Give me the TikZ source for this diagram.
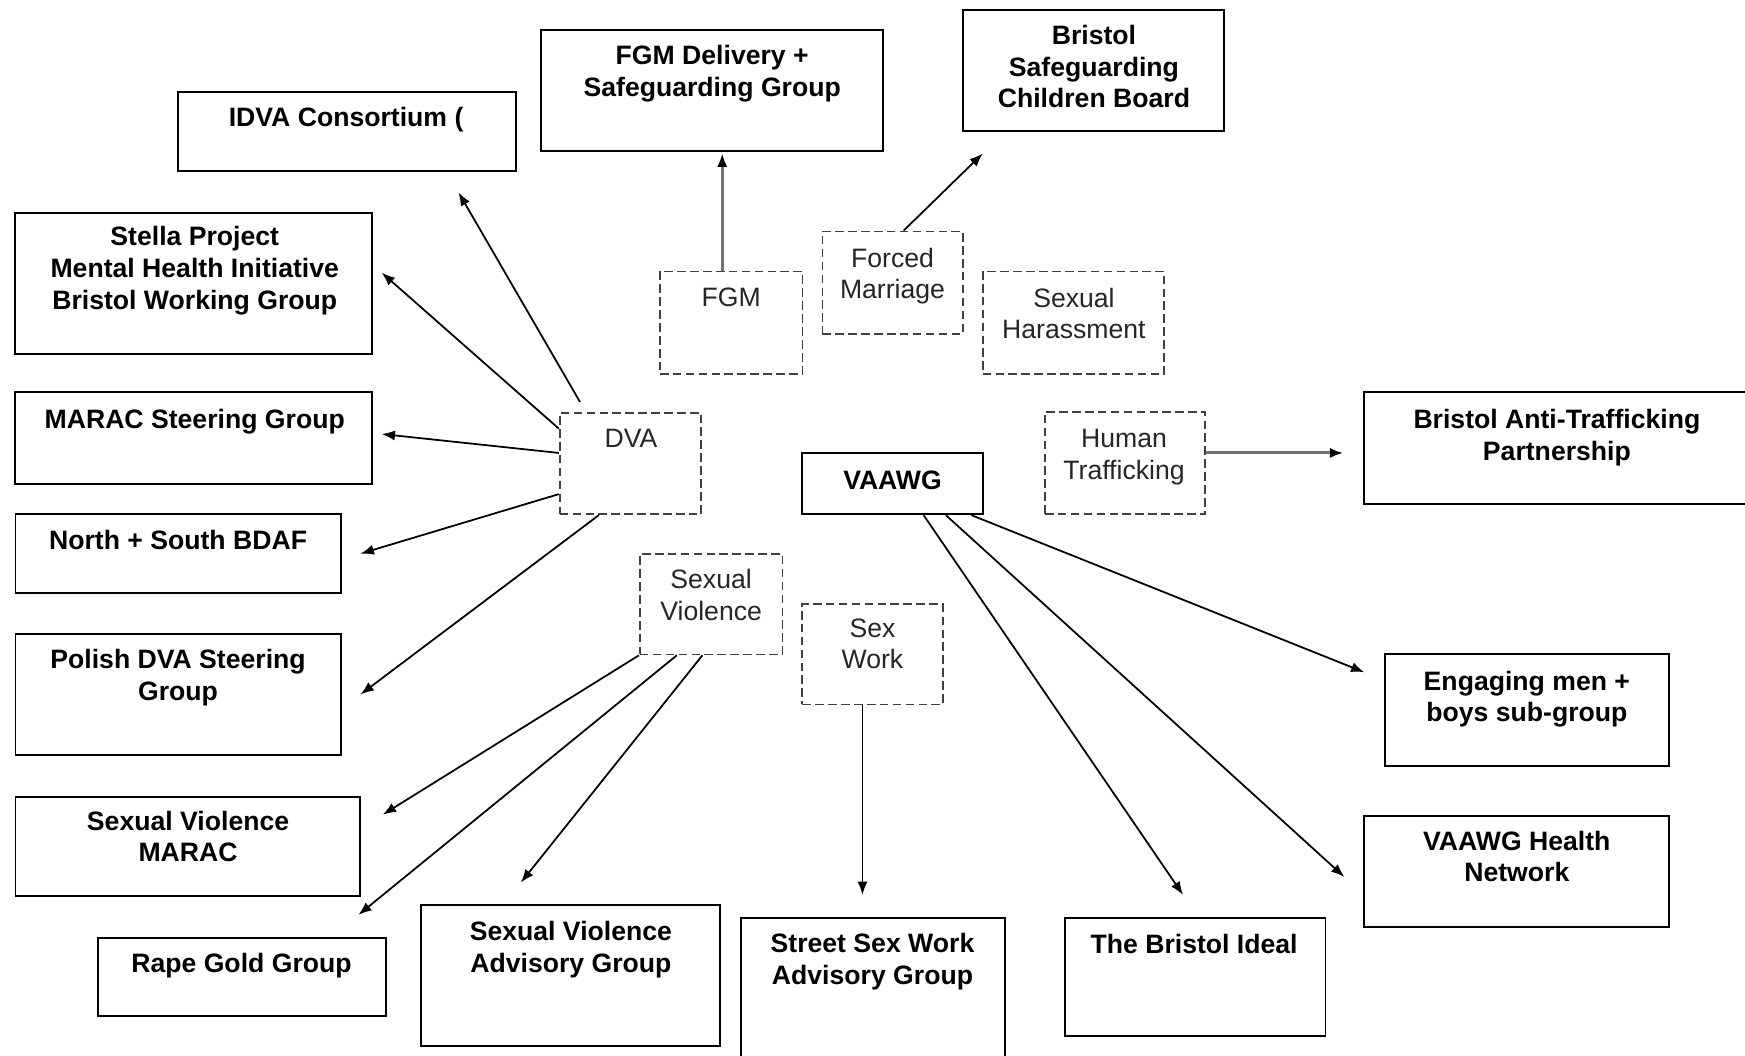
\documentclass[tikz,border=0pt]{standalone}
\usepackage{fontspec}
\setmainfont{Liberation Sans}
\usetikzlibrary{arrows.meta,calc}
\begin{document}
\begin{tikzpicture}[x=0.01cm,y=-0.01cm,
  box/.style={draw=black, line width=0.5pt, rectangle, inner sep=0pt},
  dbox/.style={draw=black!75, line width=0.45pt, dash pattern=on 2.2pt off 1.1pt, rectangle, inner sep=0pt},
  btxt/.style={font=\fontsize{6.8}{8.1}\selectfont\bfseries, align=center, inner sep=0pt, anchor=north},
  dtxt/.style={font=\fontsize{6.8}{8.1}\selectfont, text=black!85, align=center, inner sep=0pt, anchor=north},
  arr/.style={-{Latex[length=3.4pt,width=2.6pt]}, line width=0.45pt},
  garr/.style={-{Latex[length=3.4pt,width=2.6pt,black]}, line width=0.75pt, draw=black!55}]
\useasboundingbox (0,0) rectangle (1568,948);
\clip (0,0) rectangle (1568,948);
\fill[white] (0,0) rectangle (1568,948);

% solid boxes
\node[box, minimum width=3.04cm, minimum height=0.71cm] (idva) at (312,118.5) {};
\node[box, minimum width=3.07cm, minimum height=1.09cm] (fgmd) at (639.5,81.5) {};
\node[box, minimum width=2.35cm, minimum height=1.09cm] (bscb) at (982.5,63.5) {};
\node[box, minimum width=3.20cm, minimum height=1.27cm] (stella) at (174,254.5) {};
\node[box, minimum width=3.20cm, minimum height=0.83cm] (marac) at (174,393.5) {};
\node[box, minimum width=2.92cm, minimum height=0.71cm] (bdaf) at (160,497.5) {};
\node[box, minimum width=2.92cm, minimum height=1.08cm] (polish) at (160,624) {};
\node[box, minimum width=3.09cm, minimum height=0.89cm] (svmarac) at (168.5,760.5) {};
\node[box, minimum width=2.59cm, minimum height=0.70cm] (rape) at (217.5,878) {};
\node[box, minimum width=2.69cm, minimum height=1.27cm] (svadv) at (512.5,876.5) {};
\node[box, minimum width=2.37cm, minimum height=1.35cm] (sswag) at (784.5,892.5) {};
\node[box, minimum width=2.34cm, minimum height=1.06cm] (ideal) at (1074,878) {};
\node[box, minimum width=2.74cm, minimum height=1.00cm] (health) at (1363,783) {};
\node[box, minimum width=2.55cm, minimum height=1.00cm] (engage) at (1372.5,638) {};
\node[box, minimum width=3.54cm, minimum height=1.01cm] (batp) at (1403,402.5) {};
\node[box, minimum width=1.62cm, minimum height=0.55cm] (vaawg) at (802,434.5) {};

% dashed boxes
\node[dbox, minimum width=1.27cm, minimum height=0.91cm] (dva) at (566.5,416.5) {};
\node[dbox, minimum width=1.28cm, minimum height=0.92cm] (fgm) at (657,290) {};
\node[dbox, minimum width=1.26cm, minimum height=0.92cm] (fm) at (802,254) {};
\node[dbox, minimum width=1.63cm, minimum height=0.92cm] (sh) at (964.5,290) {};
\node[dbox, minimum width=1.44cm, minimum height=0.92cm] (ht) at (1011,416) {};
\node[dbox, minimum width=1.28cm, minimum height=0.90cm] (sv) at (639,543) {};
\node[dbox, minimum width=1.26cm, minimum height=0.90cm] (sw) at (784,588) {};

% texts
\node[btxt] (idva-t) at (311,96) {IDVA Consortium (};
\node[btxt] (fgmd-t) at (640,40) {FGM Delivery +\\Safeguarding Group};
\node[btxt] (bscb-t) at (983,22) {Bristol\\Safeguarding\\Children Board};
\node[btxt] (stella-t) at (175,203) {Stella Project\\Mental Health Initiative\\Bristol Working Group};
\node[btxt] (marac-t) at (175,367) {MARAC Steering Group};
\node[btxt] (bdaf-t) at (160,476) {North + South BDAF};
\node[btxt] (polish-t) at (160,583) {Polish DVA Steering\\Group};
\node[btxt] (svmarac-t) at (169,728) {Sexual Violence\\MARAC};
\node[btxt] (rape-t) at (217,856) {Rape Gold Group};
\node[btxt] (svadv-t) at (513,827) {Sexual Violence\\Advisory Group};
\node[btxt] (sswag-t) at (784,838) {Street Sex Work\\Advisory Group};
\node[btxt] (ideal-t) at (1073,839) {The Bristol Ideal};
\node[btxt] (health-t) at (1363,746) {VAAWG Health\\Network};
\node[btxt] (engage-t) at (1372,602) {Engaging men +\\boys sub-group};
\node[btxt] (batp-t) at (1399,367) {Bristol Anti-Trafficking\\Partnership};
\node[btxt] (vaawg-t) at (802,422) {VAAWG};
\node[dtxt] (dva-t) at (567,385) {DVA};
\node[dtxt] (fgm-t) at (657,258) {FGM};
\node[dtxt] (fm-t) at (802,222) {Forced\\Marriage};
\node[dtxt] (sh-t) at (965,258) {Sexual\\Harassment};
\node[dtxt] (ht-t) at (1010,385) {Human\\Trafficking};
\node[dtxt] (sv-t) at (639,511) {Sexual\\Violence};
\node[dtxt] (sw-t) at (784,555) {Sex\\Work};

% connectors
\draw[arr] ($(dva.north west)+(19,-9)$) -- ($(idva.south west)+(253,18)$);
\draw[arr] ($(dva.north west)+(0,15)$) -- ($(stella.east)+(8,-9.5)$);
\draw[arr] ($(dva.west)+(0,-9.5)$) -- ($(marac.east)+(8,-3.5)$);
\draw[arr] ($(dva.west)+(0,27.5)$) -- ($(bdaf.east)+(17,0)$);
\draw[arr] ($(dva.south west)+(36,0)$) -- ($(polish.east)+(17,0)$);
\draw[garr] ($(fgm.north)+(-8,0)$) -- ($(fgmd.south)+(9.5,1)$);
\draw[arr] ($(fm.north)+(10,0)$) -- ($(bscb.south west)+(19,19)$);
\draw[garr] ($(ht.east)+(0,-9)$) -- ($(batp.west)+(-18,4.5)$);
\draw[arr] ($(vaawg.south east)+(-11,0)$) -- ($(engage.north west)+(-18,17)$);
\draw[arr] ($(vaawg.south east)+(-34,0)$) -- ($(health.west)+(-17,5)$);
\draw[arr] ($(vaawg.south east)+(-54,0)$) -- ($(ideal.north west)+(107,-20)$);
\draw[arr] (sv.south west) -- ($(svmarac.east)+(20,-28.5)$);
\draw[arr] ($(sv.south west)+(34,0)$) -- ($(rape.north west)+(235,-20)$);
\draw[arr] ($(sv.south west)+(57,0)$) -- ($(svadv.north west)+(91,-19)$);
\draw[arr] ($(sw.south)+(-9,0)$) -- ($(sswag.north)+(-9.5,-20)$);
\end{tikzpicture}
\end{document}
